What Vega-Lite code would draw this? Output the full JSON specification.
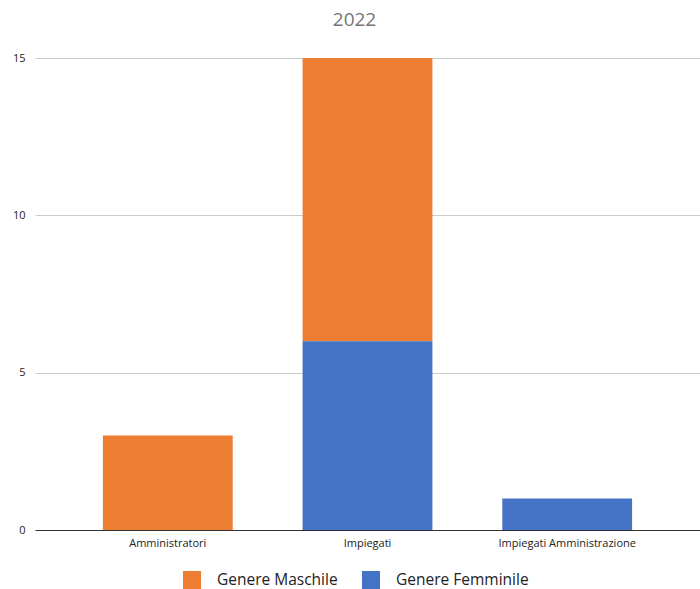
{
  "$schema": "https://vega.github.io/schema/vega-lite/v6.json",
  "autosize": {"type": "none"},
  "padding": {"left": 35, "top": 58, "right": 0, "bottom": 59},
  "width": 665,
  "height": 472,
  "background": "white",
  "title": {
    "text": "2022",
    "font": "Open Sans",
    "fontSize": 19,
    "fontWeight": "normal",
    "color": "#757575",
    "anchor": "middle",
    "dx": -13,
    "offset": 22
  },
  "data": {
    "values": [
      {"ruolo": "Amministratori", "genere": "Genere Maschile", "n": 3},
      {"ruolo": "Amministratori", "genere": "Genere Femminile", "n": 0},
      {"ruolo": "Impiegati", "genere": "Genere Maschile", "n": 9},
      {"ruolo": "Impiegati", "genere": "Genere Femminile", "n": 6},
      {"ruolo": "Impiegati Amministrazione", "genere": "Genere Maschile", "n": 0},
      {"ruolo": "Impiegati Amministrazione", "genere": "Genere Femminile", "n": 1}
    ]
  },
  "mark": {"type": "bar"},
  "encoding": {
    "x": {
      "field": "ruolo",
      "type": "nominal",
      "sort": null,
      "scale": {"paddingInner": 0.35, "paddingOuter": 0.34},
      "axis": {
        "title": null,
        "labelAngle": 0,
        "labelFont": "Open Sans",
        "labelFontSize": 11,
        "labelColor": "#222222",
        "labelPadding": 7,
        "ticks": false,
        "domainColor": "#333333",
        "domainWidth": 1
      }
    },
    "y": {
      "field": "n",
      "type": "quantitative",
      "scale": {"domain": [0, 15], "nice": false},
      "axis": {
        "title": null,
        "values": [0, 5, 10, 15],
        "labelFont": "Open Sans",
        "labelFontSize": 11,
        "labelColor": "#222222",
        "labelPadding": 10,
        "ticks": false,
        "domain": false,
        "gridColor": "#cccccc",
        "gridWidth": 1
      }
    },
    "color": {
      "field": "genere",
      "type": "nominal",
      "scale": {
        "domain": ["Genere Maschile", "Genere Femminile"],
        "range": ["#ED7D31", "#4472C4"]
      },
      "legend": {
        "title": null,
        "orient": "none",
        "legendX": 148,
        "legendY": 513,
        "direction": "horizontal",
        "symbolType": "square",
        "symbolSize": 324,
        "symbolStrokeWidth": 0,
        "symbolOpacity": 1,
        "labelFont": "Open Sans",
        "labelFontSize": 15.5,
        "labelColor": "#222222",
        "labelOffset": 16,
        "columnPadding": 24
      }
    },
    "order": {"field": "genere", "sort": "ascending"}
  },
  "config": {"view": {"stroke": null}}
}
